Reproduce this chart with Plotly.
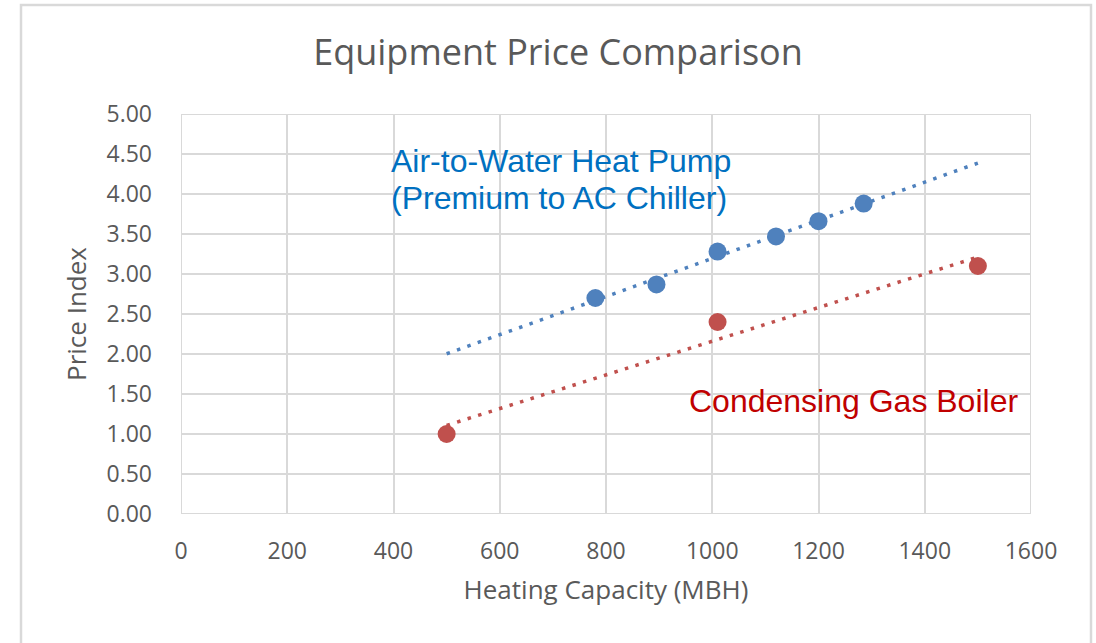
import numpy as np
import plotly.graph_objects as go

# Data
hp_capacity = [780, 895, 1010, 1120, 1200, 1285]
hp_price = [2.70, 2.87, 3.28, 3.47, 3.66, 3.88]
boiler_capacity = [500, 1010, 1500]
boiler_price = [1.00, 2.40, 3.10]
trend_range = [500, 1500]
x_ticks = [0, 200, 400, 600, 800, 1000, 1200, 1400, 1600]
y_ticks = [0, 0.5, 1, 1.5, 2, 2.5, 3, 3.5, 4, 4.5, 5]

BLUE = "#4F81BD"
RED = "#C0504D"
GRID = "#D9D9D9"
TXT = "#595959"

W, H = 1096, 643
ML, MR, MT, MB = 181, 65, 114, 129
PW, PH = W - ML - MR, H - MT - MB

def trend(x, y):
    m, b = np.polyfit(x, y, 1)
    xs = np.array(trend_range, dtype=float)
    return xs, m * xs + b

fig = go.Figure()
tx, ty = trend(hp_capacity, hp_price)
fig.add_trace(go.Scatter(x=tx, y=ty, mode="lines",
                         line=dict(color=BLUE, width=3.5, dash="3.5px,7.5px"),
                         hoverinfo="skip", showlegend=False))
tx, ty = trend(boiler_capacity, boiler_price)
fig.add_trace(go.Scatter(x=tx, y=ty, mode="lines",
                         line=dict(color=RED, width=3.5, dash="3.5px,7.5px"),
                         hoverinfo="skip", showlegend=False))
fig.add_trace(go.Scatter(x=hp_capacity, y=hp_price, mode="markers",
                         marker=dict(color=BLUE, size=18), showlegend=False))
fig.add_trace(go.Scatter(x=boiler_capacity, y=boiler_price, mode="markers",
                         marker=dict(color=RED, size=18), showlegend=False))

tick_font = dict(family="Open Sans, sans-serif", size=23, color=TXT)
fig.update_xaxes(range=[0, 1600], tickvals=x_ticks, ticktext=[str(v) for v in x_ticks],
                 showgrid=True, gridcolor=GRID, gridwidth=2, zeroline=False,
                 showline=False, tickfont=tick_font, ticks="", ticklabelstandoff=21,
                 title=dict(text="Heating Capacity (MBH)", standoff=15,
                            font=dict(family="Open Sans, sans-serif", size=26, color=TXT)))
fig.update_yaxes(range=[0, 5], tickvals=y_ticks, ticktext=[f"{v:.2f}" for v in y_ticks],
                 showgrid=True, gridcolor=GRID, gridwidth=2, zeroline=False,
                 showline=False, tickfont=tick_font, ticks="", ticklabelstandoff=28,
                 title=dict(text="Price Index", standoff=12,
                            font=dict(family="Open Sans, sans-serif", size=26, color=TXT)))

# plot frame edges (grid at 1600 and 5.00)
fig.add_shape(type="rect", xref="x", yref="y", x0=0, x1=1600, y0=0, y1=5,
              line=dict(color=GRID, width=2), layer="below")

# outer chart border
def px_x(p):
    return (p - ML) / PW
def px_y(p):
    return (H - MB - p) / PH
fig.add_shape(type="rect", xref="paper", yref="paper",
              x0=px_x(21), x1=px_x(1091), y0=px_y(660), y1=px_y(5),
              line=dict(color=GRID, width=2.5))

ann_font_blue = dict(family="Liberation Sans, Arial, sans-serif", size=32, color="#0070C0")
fig.add_annotation(x=px_x(389), y=px_y(161), xref="paper", yref="paper",
                   xanchor="left", yanchor="middle", showarrow=False,
                   text="Air-to-Water Heat Pump", font=ann_font_blue)
fig.add_annotation(x=px_x(389), y=px_y(198), xref="paper", yref="paper",
                   xanchor="left", yanchor="middle", showarrow=False,
                   text="(Premium to AC Chiller)", font=ann_font_blue)
fig.add_annotation(x=px_x(687), y=px_y(401), xref="paper", yref="paper",
                   xanchor="left", yanchor="middle", showarrow=False,
                   text="Condensing Gas Boiler",
                   font=dict(family="Liberation Sans, Arial, sans-serif", size=32, color="#C00000"))

fig.update_layout(
    width=W, height=H,
    margin=dict(l=ML, r=MR, t=MT, b=MB),
    paper_bgcolor="white", plot_bgcolor="white",
    title=dict(text="Equipment Price Comparison", x=558 / W, xanchor="center",
               y=1 - 52 / H, yanchor="middle", yref="container",
               font=dict(family="Open Sans, sans-serif", size=36, color=TXT)),
    showlegend=False,
)

fig.write_html("out.html")
